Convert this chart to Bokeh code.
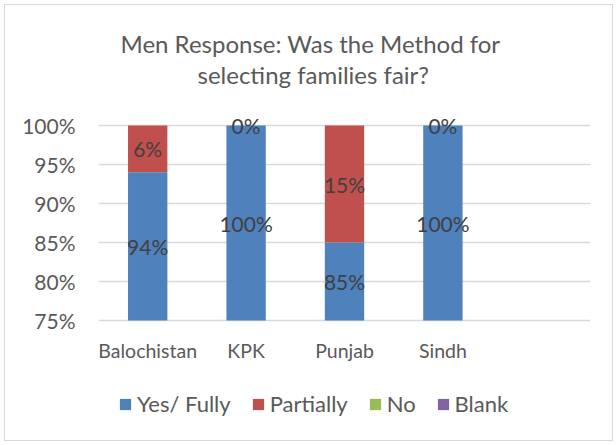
from bokeh.plotting import figure
from bokeh.models import (FactorRange, Range1d, NumeralTickFormatter, FixedTicker,
                          ColumnDataSource, Legend, LegendItem, Title, LabelSet)
from bokeh.core.properties import value
from bokeh.embed import file_html
from bokeh.resources import INLINE

# ---- data ----
categories = ["Balochistan", "KPK", "Punjab", "Sindh"]
series = ["Yes/ Fully", "Partially", "No", "Blank"]
yes_fully = [94, 100, 85, 100]
partially = [6, 0, 15, 0]
no = [0, 0, 0, 0]
blank = [0, 0, 0, 0]
y_ticks = [0.75, 0.80, 0.85, 0.90, 0.95, 1.00]
colors = ["#4F81BD", "#C0504D", "#9BBB59", "#8064A2"]
title_lines = ["Men Response: Was the Method for", "selecting families fair?"]

FONT = "Lato"
TXT = "#595959"
y_min, y_max = 0.75, 1.0

# layout (pixels)
PLOT_H = 195                      # height of the 75%..100% band
PX = PLOT_H / (y_max - y_min)     # pixels per unit
PAD_TOP, PAD_BOTTOM = 12, 110     # room for top labels / axis labels + legend

factors = categories + [" "]

p = figure(x_range=FactorRange(factors=factors, range_padding=0),
           y_range=Range1d(y_min - PAD_BOTTOM / PX, y_max + PAD_TOP / PX),
           frame_width=492, frame_height=PLOT_H + PAD_TOP + PAD_BOTTOM,
           output_backend="svg", toolbar_location=None,
           min_border_left=93, min_border_right=22, min_border_top=108,
           min_border_bottom=10, title=None)
p.margin = 4
p.styles = {"border": "1px solid #D9D9D9"}
p.outline_line_color = None
p.background_fill_color = "white"
p.border_fill_color = "white"

# stacked bars, cut at the axis minimum
cum = [0.0] * len(categories)
renderers = []
for name, vals, color in zip(series, [yes_fully, partially, no, blank], colors):
    bottom = [max(c, y_min) for c in cum]
    top = [c + v / 100 for c, v in zip(cum, vals)]
    src = ColumnDataSource(dict(cat=categories, bottom=bottom, top=top))
    renderers.append(p.vbar(x="cat", bottom="bottom", top="top", width=0.4,
                            source=src, fill_color=color, line_color=None))
    cum = top

# data labels at the middle of the visible part of each segment
bottoms = [0.0] * len(categories)
lab_x, lab_y, lab_t = [], [], []
for vals in [yes_fully, partially]:
    for i, v in enumerate(vals):
        lo = bottoms[i]
        hi = lo + v / 100
        lab_x.append(categories[i])
        lab_y.append((max(lo, y_min) + min(hi, y_max)) / 2)
        lab_t.append(f"{v}%")
        bottoms[i] = hi
lsrc = ColumnDataSource(dict(x=lab_x, y=lab_y, t=lab_t))
labels = LabelSet(x="x", y="y", text="t", source=lsrc, text_align="center",
                  text_baseline="middle", text_font=value(FONT),
                  text_font_size="21px", text_color="#404040")
p.add_layout(labels)

# axes
p.yaxis.ticker = FixedTicker(ticks=y_ticks)
p.yaxis.formatter = NumeralTickFormatter(format="0%")
p.xaxis.fixed_location = y_min
for ax in (p.xaxis, p.yaxis):
    ax.axis_line_color = None
    ax.major_tick_line_color = None
    ax.minor_tick_line_color = None
    ax.major_tick_out = 0
    ax.major_tick_in = 0
    ax.major_label_text_font = FONT
    ax.major_label_text_color = TXT
p.yaxis.major_label_text_font_size = "21px"
p.xaxis.major_label_text_font_size = "19.5px"
p.yaxis.major_label_standoff = 23
p.xaxis.major_label_standoff = 18
p.xgrid.grid_line_color = None
p.ygrid.grid_line_color = "#D9D9D9"
p.ygrid.grid_line_width = 1.5

# title: spacer then the two lines, stacked outward from the frame
p.add_layout(Title(text=" ", text_font=FONT, text_font_size="16px", standoff=4),
             "above")
for txt, off in zip(reversed(title_lines), [99, 22]):
    p.add_layout(Title(text=txt, align="left", offset=off, standoff=0,
                       text_font=FONT, text_font_size="24px",
                       text_font_style="normal", text_color=TXT), "above")

# legend
items = [LegendItem(label=s, renderers=[r]) for s, r in zip(series, renderers)]
leg = Legend(items=items, orientation="horizontal", location=(20, 13),
             glyph_width=14, glyph_height=14, label_standoff=5, spacing=20,
             label_text_font=FONT, label_text_font_size="22px",
             label_text_color=TXT, border_line_color=None, padding=0, margin=0,
             background_fill_alpha=0)
p.add_layout(leg, "center")

open("out.html", "w").write(file_html(p, INLINE))
